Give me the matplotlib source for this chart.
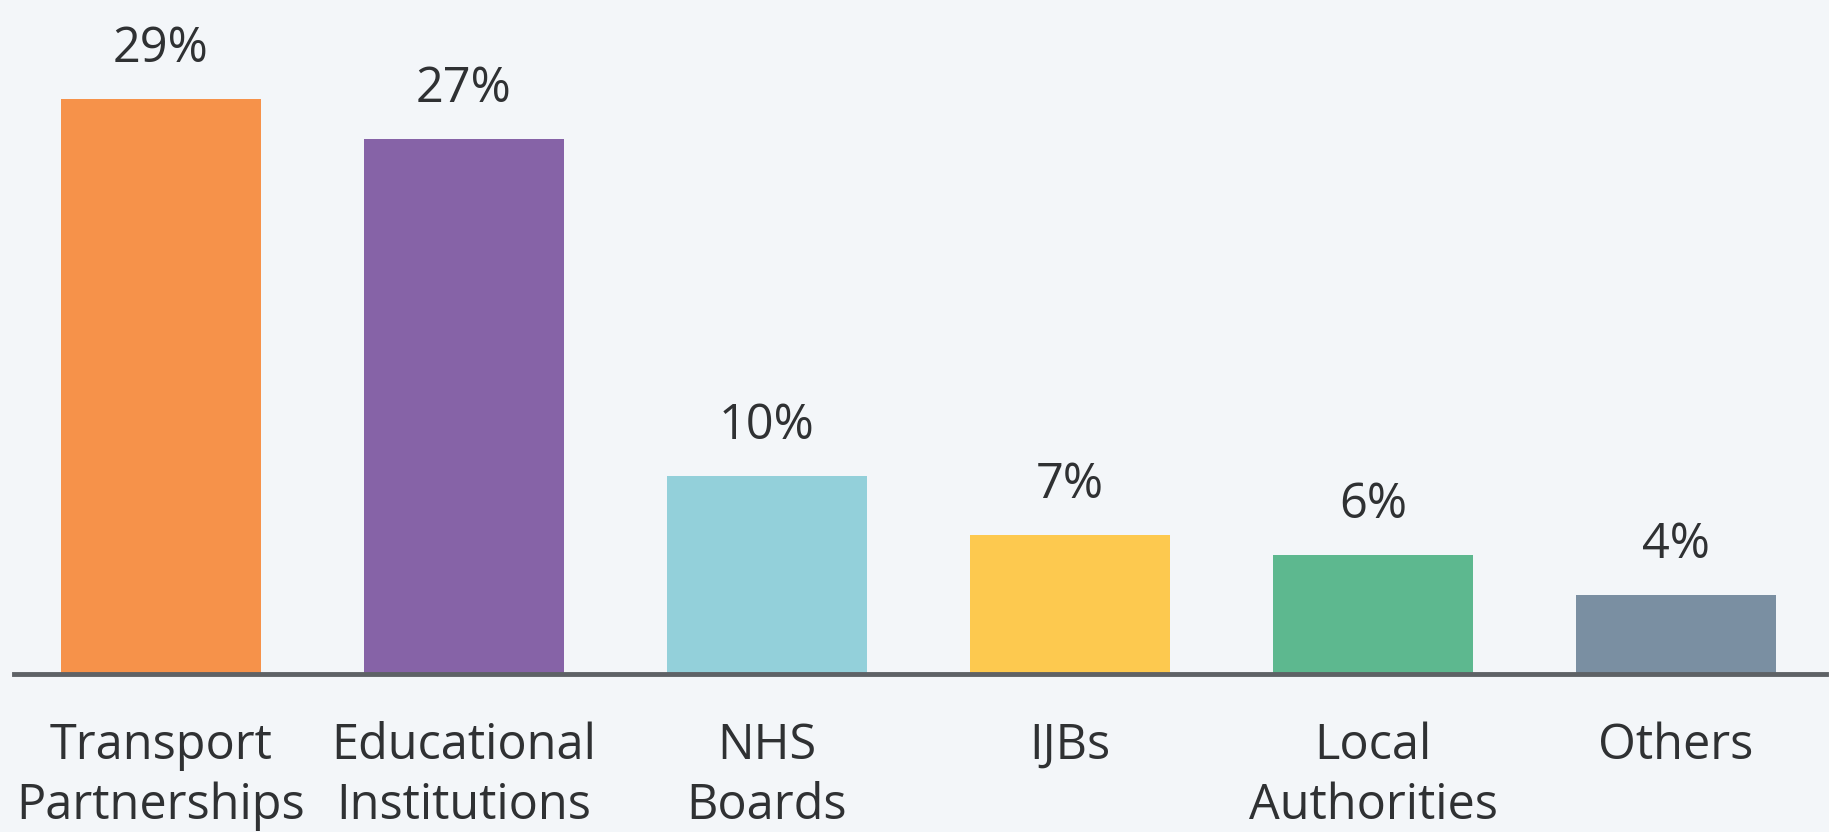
"""Share of bodies by organisation type, simple bar chart with value labels."""

import matplotlib
matplotlib.use("Agg")
import matplotlib.pyplot as plt

# ── Data ──────────────────────────────────────────────────────────────────────
CATEGORIES = [
    "Transport\nPartnerships",
    "Educational\nInstitutions",
    "NHS\nBoards",
    "IJBs",
    "Local\nAuthorities",
    "Others",
]
SHARES = [29, 27, 10, 7, 6, 4]
LABELS = [f"{v}%" for v in SHARES]

COLORS = ["#F6924A", "#8663A7", "#93D0DA", "#FDC94F", "#5DB88F", "#7A8FA2"]
BG = "#F3F6F9"
TEXT = "#2F3133"

plt.rcParams.update({
    "font.family": ["Open Sans", "DejaVu Sans"],
    "font.size": 35,
})

W, H, DPI = 1829, 832, 100
fig = plt.figure(figsize=(W / DPI, H / DPI), dpi=DPI, facecolor=BG)

# axes box in pixel terms: baseline at y=674, spans x 14..1826
base_px = 674
ax = fig.add_axes([14 / W, (H - base_px) / H, (1826 - 14) / W, base_px / H])
ax.set_facecolor(BG)

xs = range(len(SHARES))
bars = ax.bar(xs, SHARES, width=0.66, color=COLORS, zorder=2)

# value labels above each bar
for rect, lab in zip(bars, LABELS):
    ax.annotate(
        lab,
        (rect.get_x() + rect.get_width() / 2, rect.get_height()),
        xytext=(0, 18), textcoords="offset points",
        ha="center", va="bottom", color=TEXT, fontsize=35,
        annotation_clip=False,
    )

ax.set_xlim(-0.485, 5.495)
ax.set_ylim(0, base_px / 19.83)

ax.set_xticks(list(xs))
ax.set_xticklabels(CATEGORIES, color=TEXT, fontsize=35, linespacing=1.29)
ax.tick_params(axis="x", length=0, pad=34)
ax.set_yticks([])

for side in ("top", "right", "left"):
    ax.spines[side].set_visible(False)
ax.spines["bottom"].set_linewidth(3.5)
ax.spines["bottom"].set_color("#5E6266")
ax.spines["bottom"].set_zorder(3)

fig.savefig("out.png", dpi=DPI, facecolor=BG)
